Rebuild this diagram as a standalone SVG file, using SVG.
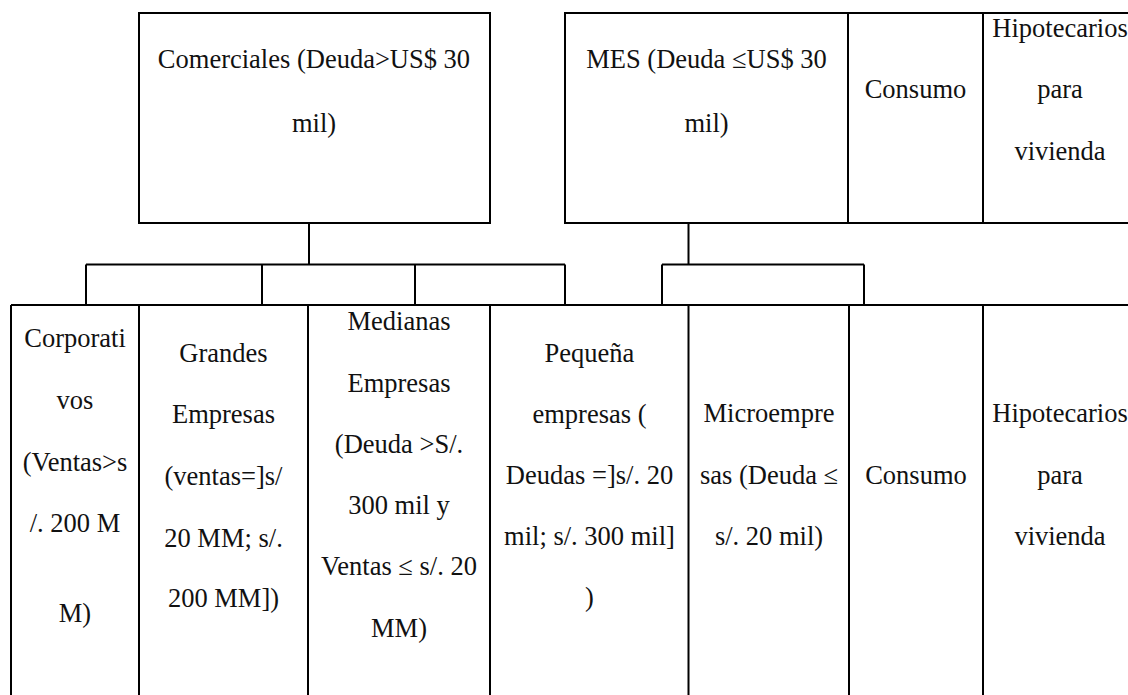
<svg xmlns="http://www.w3.org/2000/svg" width="1128" height="695" viewBox="0 0 1128 695">
<style>
.b{fill:none;stroke:#000;stroke-width:2}
.c{fill:none;stroke:#000;stroke-width:2}
.t text{font-size:26.5px;fill:#111;text-anchor:middle}
</style>
<rect width="1128" height="695" fill="#fff"/>
<g id="connectors">
<path class="c" d="M309 223V264.5M86 264.5H565M86 264.5V305M262 264.5V305M415 264.5V305M565 264.5V305"/>
<path class="c" d="M688.5 223V264.5M662 264.5H864M662 264.5V305M864 264.5V305"/>
</g>
<g class="t" font-family="Liberation Serif, Times New Roman, Times, serif">
<g id="comerciales">
<rect class="b" x="139" y="13" width="351" height="210"/>
<text x="314" y="68">Comerciales (Deuda&gt;US$ 30</text>
<text x="314" y="131.5">mil)</text>
</g>
<g id="mes">
<path class="b" d="M1130 13H565V223H1130M848 13V223"/>
<text x="706.5" y="68">MES (Deuda ≤US$ 30</text>
<text x="706.5" y="131.5">mil)</text>
</g>
<g id="consumo-top">
<path class="b" d="M983 13V223"/>
<text x="915.5" y="98">Consumo</text>
</g>
<g id="hipotecarios-top">
<text x="1060" y="36.5">Hipotecarios</text>
<text x="1060" y="98">para</text>
<text x="1060" y="160">vivienda</text>
</g>
<g id="row-line">
<path class="b" d="M11 305H1130M11 305V700"/>
</g>
<g id="corporativos">
<path class="b" d="M139 305V700"/>
<text x="75" y="347">Corporati</text>
<text x="75" y="408.5">vos</text>
<text x="75" y="470.5">(Ventas&gt;s</text>
<text x="75" y="532">/. 200 M</text>
<text x="75" y="621.5">M)</text>
</g>
<g id="grandes">
<path class="b" d="M308 305V700"/>
<text x="223.5" y="361.5">Grandes</text>
<text x="223.5" y="423">Empresas</text>
<text x="223.5" y="485">(ventas=]s/</text>
<text x="223.5" y="546.5">20 MM; s/.</text>
<text x="223.5" y="607">200 MM])</text>
</g>
<g id="medianas">
<path class="b" d="M490 305V700"/>
<text x="399" y="330">Medianas</text>
<text x="399" y="391.5">Empresas</text>
<text x="399" y="453">(Deuda &gt;S/.</text>
<text x="399" y="514">300 mil y</text>
<text x="399" y="575">Ventas ≤ s/. 20</text>
<text x="399" y="637">MM)</text>
</g>
<g id="pequena">
<path class="b" d="M688.5 305V700"/>
<text x="589.5" y="361.5">Pequeña</text>
<text x="589.5" y="422.5">empresas (</text>
<text x="589.5" y="484">Deudas =]s/. 20</text>
<text x="589.5" y="545">mil; s/. 300 mil]</text>
<text x="589.5" y="606">)</text>
</g>
<g id="microempresas">
<path class="b" d="M849 305V700"/>
<text x="769" y="422">Microempre</text>
<text x="769" y="483.5">sas (Deuda ≤</text>
<text x="769" y="545">s/. 20 mil)</text>
</g>
<g id="consumo">
<path class="b" d="M983 305V700"/>
<text x="916" y="483.5">Consumo</text>
</g>
<g id="hipotecarios">
<text x="1060" y="422">Hipotecarios</text>
<text x="1060" y="483.5">para</text>
<text x="1060" y="545">vivienda</text>
</g>
</g>
</svg>
